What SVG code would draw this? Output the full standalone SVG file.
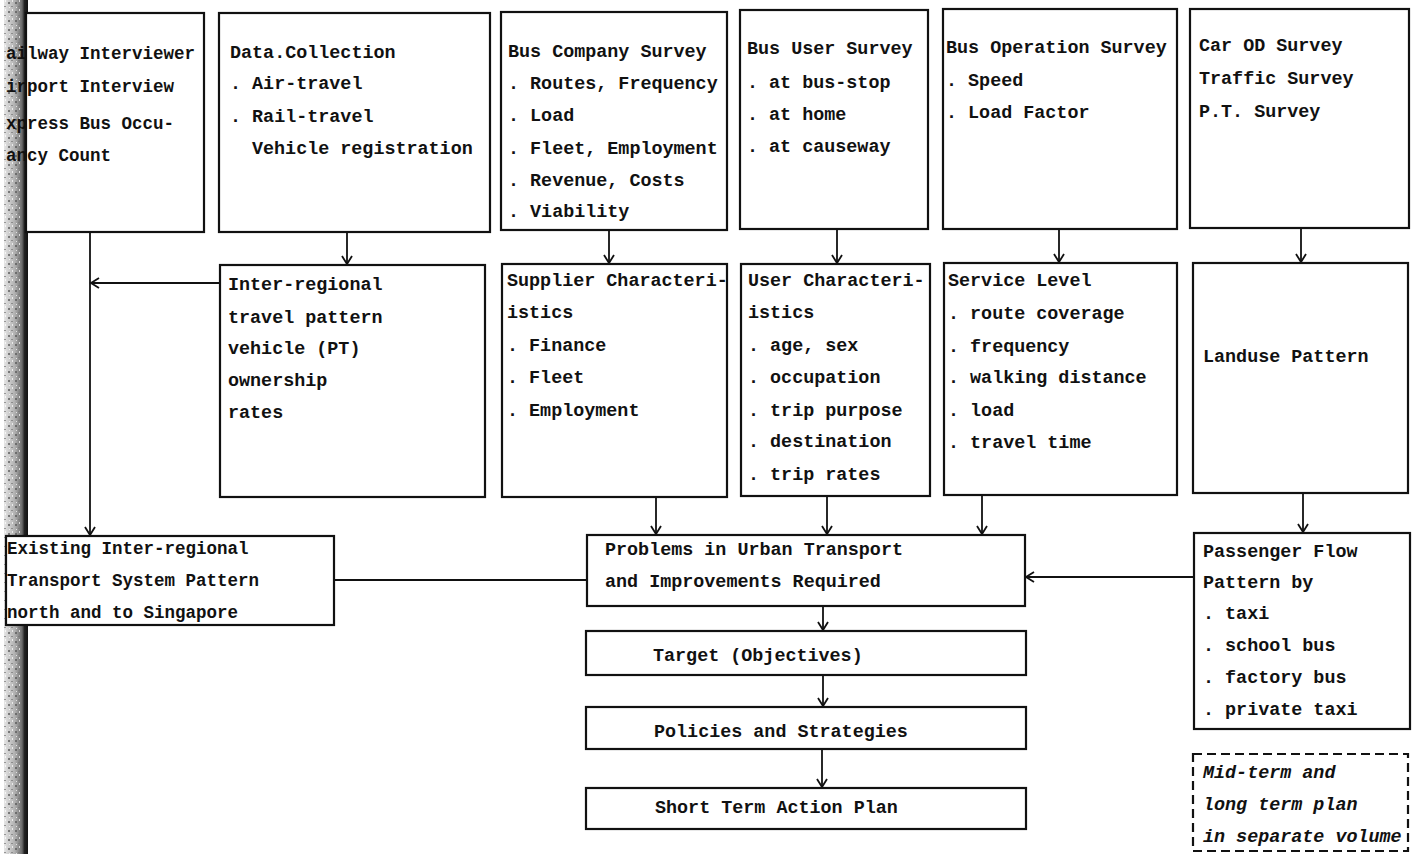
<svg xmlns="http://www.w3.org/2000/svg" width="1418" height="854" viewBox="0 0 1418 854">
<defs>
<style>
.box{fill:#fff;stroke:#111;stroke-width:2.2}
.dash{fill:#fff;stroke:#111;stroke-width:2.2;stroke-dasharray:9 5}
.t{font-family:"Liberation Mono","Courier New",monospace;font-size:18.4px;font-weight:bold;fill:#111}
.ts{font-family:"Liberation Mono","Courier New",monospace;font-size:17.5px;font-weight:bold;fill:#111}
.ti{font-family:"Liberation Mono","Courier New",monospace;font-size:18.4px;font-weight:bold;font-style:italic;fill:#111}
.c{fill:none;stroke:#111;stroke-width:1.8}
</style>
<marker id="a" markerUnits="userSpaceOnUse" markerWidth="12" markerHeight="12" refX="9" refY="6" orient="auto">
<path d="M1,1 L9,6 L1,11" fill="none" stroke="#111" stroke-width="1.8"/>
</marker>
<linearGradient id="g" x1="0" y1="0" x2="1" y2="0">
<stop offset="0" stop-color="#e6e6e6"/>
<stop offset="0.45" stop-color="#b0b0b0"/>
<stop offset="0.75" stop-color="#6a6a6a"/>
<stop offset="0.85" stop-color="#222"/>
<stop offset="1" stop-color="#111"/>
</linearGradient>
<pattern id="n" width="7" height="9" patternUnits="userSpaceOnUse">
<rect x="1" y="2" width="2" height="2" fill="#555"/>
<rect x="4" y="6" width="2" height="1" fill="#777"/>
<rect x="5" y="0" width="1" height="2" fill="#fff"/>
<rect x="2" y="7" width="1" height="1" fill="#fff"/>
</pattern>
</defs>
<rect width="1418" height="854" fill="#fff"/>
<g id="scan-edge">
<rect x="4" y="0" width="24" height="854" fill="url(#g)"/>
<rect x="4" y="0" width="18" height="854" fill="url(#n)" opacity="0.7"/>
</g>
<g id="connectors">
<path class="c" d="M90,233 L90,535" marker-end="url(#a)"/>
<path class="c" d="M220,283 L91,283" marker-end="url(#a)"/>
<path class="c" d="M347,232 L347,264" marker-end="url(#a)"/>
<path class="c" d="M609,230 L609,263" marker-end="url(#a)"/>
<path class="c" d="M837,229 L837,263" marker-end="url(#a)"/>
<path class="c" d="M1059,229 L1059,262" marker-end="url(#a)"/>
<path class="c" d="M1301,228 L1301,262" marker-end="url(#a)"/>
<path class="c" d="M656,497 L656,534" marker-end="url(#a)"/>
<path class="c" d="M827,496 L827,534" marker-end="url(#a)"/>
<path class="c" d="M982,495 L982,534" marker-end="url(#a)"/>
<path class="c" d="M1303,493 L1303,532" marker-end="url(#a)"/>
<path class="c" d="M335,580 L587,580"/>
<path class="c" d="M1194,577 L1026,577" marker-end="url(#a)"/>
<path class="c" d="M823,606 L823,630" marker-end="url(#a)"/>
<path class="c" d="M823,675 L823,706" marker-end="url(#a)"/>
<path class="c" d="M822,749 L822,787" marker-end="url(#a)"/>
</g>
<g id="railway">
<rect class="box" x="26" y="13" width="178" height="219"/>
<text class="ts" x="6" y="59">ailway Interviewer</text>
<text class="ts" x="6" y="92">irport Interview</text>
<text class="ts" x="6" y="129">xpress Bus Occu-</text>
<text class="ts" x="6" y="161">ancy Count</text>
</g>
<g id="data-collection">
<rect class="box" x="219" y="13" width="271" height="219"/>
<text class="t" x="230" y="58">Data.Collection</text>
<text class="t" x="230" y="89">. Air-travel</text>
<text class="t" x="230" y="122">. Rail-travel</text>
<text class="t" x="252" y="154">Vehicle registration</text>
</g>
<g id="bus-company">
<rect class="box" x="501" y="12" width="226" height="218"/>
<text class="t" x="508" y="57">Bus Company Survey</text>
<text class="t" x="508" y="89">. Routes, Frequency</text>
<text class="t" x="508" y="121">. Load</text>
<text class="t" x="508" y="154">. Fleet, Employment</text>
<text class="t" x="508" y="186">. Revenue, Costs</text>
<text class="t" x="508" y="217">. Viability</text>
</g>
<g id="bus-user">
<rect class="box" x="740" y="10" width="188" height="219"/>
<text class="t" x="747" y="54">Bus User Survey</text>
<text class="t" x="747" y="88">. at bus-stop</text>
<text class="t" x="747" y="120">. at home</text>
<text class="t" x="747" y="152">. at causeway</text>
</g>
<g id="bus-operation">
<rect class="box" x="943" y="9" width="234" height="220"/>
<text class="t" x="946" y="53">Bus Operation Survey</text>
<text class="t" x="946" y="86">. Speed</text>
<text class="t" x="946" y="118">. Load Factor</text>
</g>
<g id="car-od">
<rect class="box" x="1190" y="9" width="219" height="219"/>
<text class="t" x="1199" y="51">Car OD Survey</text>
<text class="t" x="1199" y="84">Traffic Survey</text>
<text class="t" x="1199" y="117">P.T. Survey</text>
</g>
<g id="inter-regional">
<rect class="box" x="220" y="265" width="265" height="232"/>
<text class="t" x="228" y="290">Inter-regional</text>
<text class="t" x="228" y="323">travel pattern</text>
<text class="t" x="228" y="354">vehicle (PT)</text>
<text class="t" x="228" y="386">ownership</text>
<text class="t" x="228" y="418">rates</text>
</g>
<g id="supplier">
<rect class="box" x="502" y="264" width="225" height="233"/>
<text class="t" x="507" y="286">Supplier Characteri-</text>
<text class="t" x="507" y="318">istics</text>
<text class="t" x="507" y="351">. Finance</text>
<text class="t" x="507" y="383">. Fleet</text>
<text class="t" x="507" y="416">. Employment</text>
</g>
<g id="user-char">
<rect class="box" x="741" y="264" width="189" height="232"/>
<text class="t" x="748" y="286">User Characteri-</text>
<text class="t" x="748" y="318">istics</text>
<text class="t" x="748" y="351">. age, sex</text>
<text class="t" x="748" y="383">. occupation</text>
<text class="t" x="748" y="416">. trip purpose</text>
<text class="t" x="748" y="447">. destination</text>
<text class="t" x="748" y="480">. trip rates</text>
</g>
<g id="service-level">
<rect class="box" x="944" y="263" width="233" height="232"/>
<text class="t" x="948" y="286">Service Level</text>
<text class="t" x="948" y="319">. route coverage</text>
<text class="t" x="948" y="352">. frequency</text>
<text class="t" x="948" y="383">. walking distance</text>
<text class="t" x="948" y="416">. load</text>
<text class="t" x="948" y="448">. travel time</text>
</g>
<g id="landuse">
<rect class="box" x="1193" y="263" width="215" height="230"/>
<text class="t" x="1203" y="362">Landuse Pattern</text>
</g>
<g id="existing">
<rect class="box" x="6" y="536" width="328" height="89"/>
<text class="ts" x="7" y="554">Existing Inter-regional</text>
<text class="ts" x="7" y="586">Transport System Pattern</text>
<text class="ts" x="7" y="618">north and to Singapore</text>
</g>
<g id="problems">
<rect class="box" x="587" y="535" width="438" height="71"/>
<text class="t" x="605" y="555">Problems in Urban Transport</text>
<text class="t" x="605" y="587">and Improvements Required</text>
</g>
<g id="target">
<rect class="box" x="586" y="631" width="440" height="44"/>
<text class="t" x="653" y="661">Target (Objectives)</text>
</g>
<g id="policies">
<rect class="box" x="586" y="707" width="440" height="42"/>
<text class="t" x="654" y="737">Policies and Strategies</text>
</g>
<g id="short-term">
<rect class="box" x="586" y="788" width="440" height="41"/>
<text class="t" x="655" y="813">Short Term Action Plan</text>
</g>
<g id="passenger-flow">
<rect class="box" x="1194" y="533" width="216" height="196"/>
<text class="t" x="1203" y="557">Passenger Flow</text>
<text class="t" x="1203" y="588">Pattern by</text>
<text class="t" x="1203" y="619">. taxi</text>
<text class="t" x="1203" y="651">. school bus</text>
<text class="t" x="1203" y="683">. factory bus</text>
<text class="t" x="1203" y="715">. private taxi</text>
</g>
<g id="mid-term">
<rect class="dash" x="1193" y="754" width="215" height="97"/>
<text class="ti" x="1203" y="778">Mid-term and</text>
<text class="ti" x="1203" y="810">long term plan</text>
<text class="ti" x="1203" y="842">in separate volume</text>
</g>
</svg>
